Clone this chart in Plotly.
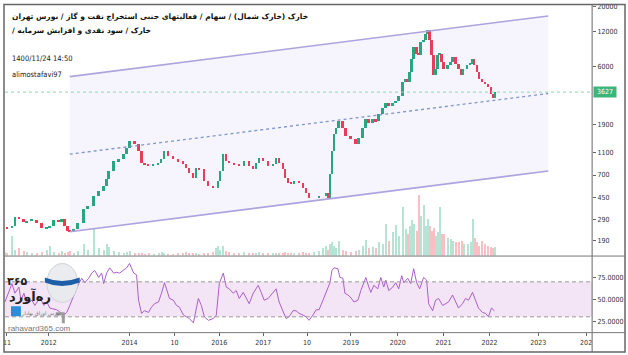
import math
import plotly.graph_objects as go

# ---------------- data ----------------
tick_pos = [5, 47, 128, 173, 218, 262, 306, 350, 397, 443, 489, 538, 586]
tick_text = ["11", "2012", "2014", "10", "2016", "2017", "10", "2019", "2020",
             "2021", "2022", "2023", "202"]

bar_pos = [3, 5, 10, 13, 17, 22, 25, 30, 35, 40,
           45, 48, 52, 57, 60, 63, 66, 68, 72, 76,
           82, 86, 92, 97, 102, 105, 107, 112, 117, 122,
           125, 128, 133, 137, 140, 143, 147, 152, 157, 160,
           163, 167, 172, 177, 182, 185, 188, 192, 195, 198,
           203, 207, 212, 215, 217, 219, 222, 225, 228, 233,
           238, 243, 248, 252, 255, 258, 262, 267, 272, 275,
           278, 282, 284, 287, 290, 293, 298, 302, 305, 308,
           313, 318, 322, 325, 327, 329, 331, 333, 335, 338,
           342, 345, 350, 355, 358, 362, 365, 368, 372, 375,
           378, 382, 385, 388, 392, 395, 398, 402, 405, 407,
           409, 411, 413, 416, 418, 420, 423, 425, 427, 429,
           431, 433, 435, 437, 439, 441, 443, 447, 450, 452,
           455, 458, 461, 463, 467, 470, 472, 474, 477, 479,
           482, 485, 488, 491, 493, 495]

close = [247, 243, 256, 306, 294, 273, 282, 288, 268, 243,
         247, 256, 288, 277, 294, 256, 232, 227, 241, 268,
         358, 380, 463, 511, 563, 647, 757, 923, 960, 1059,
         1193, 1369, 1290, 1124, 887, 870, 836, 870, 887, 960,
         1124, 1018, 960, 923, 870, 804, 728, 660, 804, 788,
         622, 563, 541, 541, 622, 757, 1059, 923, 887, 870,
         836, 923, 836, 788, 887, 979, 923, 836, 870, 979,
         887, 788, 660, 598, 586, 622, 598, 541, 491, 445,
         445, 463, 463, 491, 445, 714, 1124, 1572, 1770, 2032,
         1770, 1511, 1424, 1290, 1453, 1770, 2113, 1953, 2113, 2032,
         2333, 2626, 2897, 2732, 2897, 3015, 3327, 4473, 4745, 4473,
         5450, 7040, 8920, 7770, 7620, 9850, 10240, 11530, 12470, 10240,
         7620, 5135, 5780, 7620, 7770, 6640, 5780, 6260, 6640, 7320,
         6380, 5780, 5135, 5780, 6260, 6380, 7040, 6260, 5450, 4745,
         4473, 4300, 4053, 3529, 3198, 3627]

volume = [4, 3, 20, 6, 8, 5, 4, 3, 3, 4,
          6, 10, 4, 3, 5, 3, 4, 5, 3, 5,
          12, 6, 27, 8, 6, 12, 9, 5, 4, 3,
          4, 5, 3, 3, 3, 2, 3, 2, 3, 4,
          3, 2, 2, 3, 3, 4, 3, 3, 3, 2,
          3, 3, 4, 8, 10, 6, 10, 5, 4, 3,
          3, 4, 3, 3, 3, 4, 3, 3, 3, 3,
          3, 3, 4, 3, 3, 3, 3, 4, 3, 3,
          4, 5, 8, 10, 6, 12, 14, 10, 8, 15,
          6, 5, 4, 5, 6, 10, 16, 8, 9, 8,
          14, 12, 32, 15, 24, 31, 20, 49, 27, 22,
          30, 36, 32, 25, 61, 40, 51, 30, 37, 30,
          25, 28, 20, 24, 49, 22, 22, 18, 17, 15,
          14, 14, 15, 12, 12, 14, 37, 18, 14, 10,
          15, 12, 10, 9, 8, 9]

rsi_pos = [3, 7, 10, 13, 17, 19, 22, 25, 30, 33, 38, 42, 45, 48, 55, 62, 65, 68,
           73, 77, 80, 83, 87, 90, 93, 97, 100, 102, 105, 108, 112, 115, 118,
           122, 125, 128, 132, 135, 137, 140, 143, 147, 150, 153, 157, 160,
           163, 165, 168, 172, 175, 178, 182, 185, 188, 192, 194, 197, 200,
           203, 207, 212, 215, 218, 222, 225, 228, 232, 235, 238, 242, 245,
           248, 252, 257, 260, 263, 267, 272, 275, 278, 282, 285, 288, 292,
           295, 298, 302, 305, 308, 312, 315, 318, 322, 324, 327, 329, 331,
           333, 337, 339, 342, 344, 347, 350, 353, 357, 360, 365, 368, 370,
           373, 377, 380, 383, 385, 388, 392, 395, 398, 401, 403, 407, 410,
           413, 416, 419, 423, 426, 428, 432, 435, 438, 442, 445, 448, 452,
           455, 458, 462, 465, 468, 472, 475, 478, 482, 485, 488, 491, 494]
rsi_val = [47, 60, 68, 57, 64, 49, 57, 45, 49, 43, 52, 43, 47, 40, 38, 32, 35, 43,
           57, 68, 74, 69, 74, 80, 83, 75, 80, 68, 80, 86, 80, 81, 80,
           83, 86, 91, 80, 78, 49, 34, 37, 35, 41, 45, 47, 57,
           69, 62, 51, 49, 43, 41, 32, 30, 28, 23, 35, 51, 43,
           30, 26, 28, 32, 68, 80, 64, 62, 57, 60, 51, 58, 52,
           45, 57, 66, 58, 49, 51, 58, 62, 47, 35, 28, 30, 37,
           37, 34, 32, 30, 26, 32, 38, 38, 49, 55, 64, 69, 83,
           86, 85, 75, 74, 57, 55, 52, 47, 49, 60, 75, 64, 58,
           66, 62, 75, 64, 72, 60, 64, 69, 62, 77, 69, 74, 68,
           85, 69, 62, 75, 72, 45, 37, 49, 51, 43, 45, 47, 55,
           47, 40, 45, 51, 49, 58, 49, 40, 35, 34, 30, 40, 37]

price_ticks = [20000, 12000, 6000, 1900, 1100, 700, 450, 290, 190]
rsi_ticks = [25, 50, 75]
rsi_tick_text = ["25.0000", "50.0000", "75.0000"]
last_price = 3627

channel_x = [68, 548]
channel_upper = [4936, 16440]
channel_mid = [1059, 3529]
channel_lower = [227, 757]

title_line1 = "خارک (خارک شمال) / سهام / فعالیتهای جنبی استخراج نفت و گاز / بورس تهران"
title_line2 = "خارک / سود نقدی و افزایش سرمایه /\u200f"
stamp = "1400/11/24 14:50"
author = "alimostafavi97"

# ---------------- layout helpers ----------------
W, H = 628, 355
X_LEFT, X_RIGHT = 3, 592
Y_TOP, Y_PRICE_BOT, Y_RSI_TOP, Y_RSI_BOT = 3, 255, 256, 332


def fx(p):
    return p / W


def fy(p):
    return 1 - p / H


UP = "#22ab7a"
DOWN = "#f0394e"
UP_V = "rgba(34,171,122,0.33)"
DOWN_V = "rgba(240,57,78,0.33)"
TICK_FONT = dict(family="DejaVu Sans Condensed, Liberation Sans Narrow, Liberation Sans",
                 size=7, color="#333")

opens = [close[0]] + close[:-1]
body_base = [min(o, c) for o, c in zip(opens, close)]
body_size = [abs(c - o) for o, c in zip(opens, close)]
colors = [UP if c >= o else DOWN for o, c in zip(opens, close)]
vcolors = [UP_V if c >= o else DOWN_V for o, c in zip(opens, close)]

fig = go.Figure()

# regression channel
fig.add_trace(go.Scatter(
    x=[channel_x[0], channel_x[1], channel_x[1], channel_x[0]],
    y=[channel_upper[0], channel_upper[1], channel_lower[1], channel_lower[0]],
    fill="toself", fillcolor="rgba(125,115,225,0.07)", mode="lines",
    line=dict(width=0), hoverinfo="skip", xaxis="x", yaxis="y"))
for ys, col, dash, wd in [(channel_upper, "#aea2df", "solid", 1.6),
                          (channel_lower, "#aea2df", "solid", 1.6),
                          (channel_mid, "#8095c8", "3px,3px", 1.3)]:
    fig.add_trace(go.Scatter(x=channel_x, y=ys, mode="lines",
                             line=dict(color=col, width=wd, dash=dash),
                             hoverinfo="skip", xaxis="x", yaxis="y"))

# last price line
fig.add_trace(go.Scatter(x=[X_LEFT, X_RIGHT], y=[last_price, last_price], mode="lines",
                         line=dict(color="#93d4b2", width=1, dash="dot"),
                         hoverinfo="skip", xaxis="x", yaxis="y"))

# volume
fig.add_trace(go.Bar(x=bar_pos, y=volume, marker=dict(color=vcolors, line=dict(width=0)),
                     width=2, xaxis="x", yaxis="y3"))

# candle bodies
fig.add_trace(go.Bar(x=bar_pos, y=body_size, base=body_base,
                     marker=dict(color=colors, line=dict(width=0)),
                     width=1.9, xaxis="x", yaxis="y"))

# RSI
fig.add_trace(go.Scatter(x=rsi_pos, y=rsi_val, mode="lines",
                         line=dict(color="#ab5fc9", width=1),
                         hoverinfo="skip", xaxis="x2", yaxis="y2"))

shapes = [
    dict(type="rect", xref="x2", yref="y2", x0=X_LEFT, x1=X_RIGHT, y0=30, y1=70,
         fillcolor="#f4e5f6", line=dict(width=0), layer="below"),
    dict(type="line", xref="x2", yref="y2", x0=X_LEFT, x1=X_RIGHT, y0=70, y1=70,
         line=dict(color="#9a9a9a", width=1, dash="4px,3px")),
    dict(type="line", xref="x2", yref="y2", x0=X_LEFT, x1=X_RIGHT, y0=30, y1=30,
         line=dict(color="#9a9a9a", width=1, dash="4px,3px")),
    # frame and separators
    dict(type="rect", xref="paper", yref="paper", x0=fx(2), x1=fx(625), y0=fy(352), y1=fy(2.5),
         line=dict(color="#666", width=1.5)),
    dict(type="line", xref="paper", yref="paper", x0=fx(X_RIGHT), x1=fx(X_RIGHT),
         y0=fy(352), y1=fy(2.5), line=dict(color="#666", width=1)),
    dict(type="line", xref="paper", yref="paper", x0=fx(2), x1=fx(625),
         y0=fy(255.5), y1=fy(255.5), line=dict(color="#777", width=1)),
    dict(type="line", xref="paper", yref="paper", x0=fx(2), x1=fx(625),
         y0=fy(332.5), y1=fy(332.5), line=dict(color="#777", width=1)),
    # logo balloon
    dict(type="circle", xref="paper", yref="paper", x0=fx(45), x1=fx(76), y0=fy(302), y1=fy(263),
         fillcolor="rgba(232,234,237,0.9)", line=dict(color="#cfd2d6", width=1)),
    dict(type="path", xref="paper", yref="paper",
         path=("M {a},{b} Q {c},{d} {e},{b} L {e},{f} Q {c},{g} {a},{f} Z").format(
             a=fx(43), b=fy(277), c=fx(60), d=fy(284), e=fx(78), f=fy(282), g=fy(289)),
         fillcolor="#1d5ea8", line=dict(width=0)),
    dict(type="path", xref="paper", yref="paper",
         path="M {a},{b} L {c},{b} L {c},{d} L {e},{d} L {e},{f} L {a},{f} Z".format(
             a=fx(54), b=fy(312), c=fx(63), d=fy(323), e=fx(60), f=fy(315)),
         fillcolor="#9b9b9b", line=dict(width=0)),
    dict(type="rect", xref="paper", yref="paper", x0=fx(9), x1=fx(19), y0=fy(316), y1=fy(306),
         fillcolor="#2a8fd6", line=dict(width=0)),
]

annotations = [
    dict(xref="paper", yref="paper", x=fx(8), y=fy(15), xanchor="left", yanchor="middle",
         text="<b>" + title_line1 + "</b>", showarrow=False,
         font=dict(family="DejaVu Sans", size=7.5, color="#111")),
    dict(xref="paper", yref="paper", x=fx(8), y=fy(29), xanchor="left", yanchor="middle",
         text="<b>" + title_line2 + "</b>", showarrow=False,
         font=dict(family="DejaVu Sans", size=7.5, color="#111")),
    dict(xref="paper", yref="paper", x=fx(8), y=fy(57), xanchor="left", yanchor="middle",
         text=stamp, showarrow=False,
         font=dict(family="DejaVu Sans Condensed, Liberation Sans", size=7.5, color="#222")),
    dict(xref="paper", yref="paper", x=fx(8), y=fy(73), xanchor="left", yanchor="middle",
         text=author, showarrow=False,
         font=dict(family="DejaVu Sans Condensed, Liberation Sans", size=7.5, color="#222")),
    dict(xref="paper", yref="y", x=fx(593), y=math.log10(last_price), xanchor="left",
         yanchor="middle", text=" " + str(last_price) + " ", showarrow=False, bgcolor="#3bb57a",
         borderpad=1, font=dict(family="DejaVu Sans Condensed, Liberation Sans", size=7,
                                 color="white")),
    # logo texts
    dict(xref="paper", yref="paper", x=fx(15), y=fy(281), xanchor="center", yanchor="middle",
         text="<b>۳۶۵</b>", showarrow=False,
         font=dict(family="DejaVu Sans", size=11, color="#222")),
    dict(xref="paper", yref="paper", x=fx(28), y=fy(296), xanchor="center", yanchor="middle",
         text="<b>ره‌آورد</b>", showarrow=False,
         font=dict(family="DejaVu Sans", size=13, color="#222")),
    dict(xref="paper", yref="paper", x=fx(39), y=fy(313), xanchor="center", yanchor="middle",
         text="بورس اوراق بهادار", showarrow=False,
         font=dict(family="DejaVu Sans", size=5, color="#777")),
    dict(xref="paper", yref="paper", x=fx(38), y=fy(328), xanchor="center", yanchor="middle",
         text="rahavard365.com", showarrow=False,
         font=dict(family="Liberation Sans", size=8, color="#777")),
]

fig.update_layout(
    width=W, height=H, margin=dict(l=0, r=0, t=0, b=0),
    paper_bgcolor="white", plot_bgcolor="white", showlegend=False,
    barmode="overlay", bargap=0,
    xaxis=dict(domain=[fx(X_LEFT), fx(X_RIGHT)], range=[X_LEFT, X_RIGHT], anchor="y",
               showticklabels=False, showgrid=False, zeroline=False, ticks=""),
    xaxis2=dict(domain=[fx(X_LEFT), fx(X_RIGHT)], range=[X_LEFT, X_RIGHT], anchor="y2",
                tickvals=tick_pos, ticktext=tick_text, ticks="outside", ticklen=3,
                tickcolor="#666", tickfont=TICK_FONT, showgrid=False, zeroline=False),
    yaxis=dict(domain=[fy(Y_PRICE_BOT), fy(Y_TOP)], type="log",
               range=[2.151, 4.3104], side="right", anchor="x",
               tickvals=price_ticks, ticktext=[str(v) for v in price_ticks],
               ticks="outside", ticklen=3, tickcolor="#666", tickfont=TICK_FONT,
               showgrid=False, zeroline=False),
    yaxis3=dict(overlaying="y", range=[0, max(volume) * 4.13], visible=False, anchor="x"),
    yaxis2=dict(domain=[fy(Y_RSI_BOT), fy(Y_RSI_TOP)], range=[12.5, 98.9], side="right",
                anchor="x2", tickvals=rsi_ticks, ticktext=rsi_tick_text, ticks="outside",
                ticklen=3, tickcolor="#666", tickfont=TICK_FONT, showgrid=False,
                zeroline=False),
    shapes=shapes, annotations=annotations,
)

fig.write_html("out.html", config={"displayModeBar": False},
               post_script="document.body.style.margin='0px';"
                           "document.body.style.overflow='hidden';")
